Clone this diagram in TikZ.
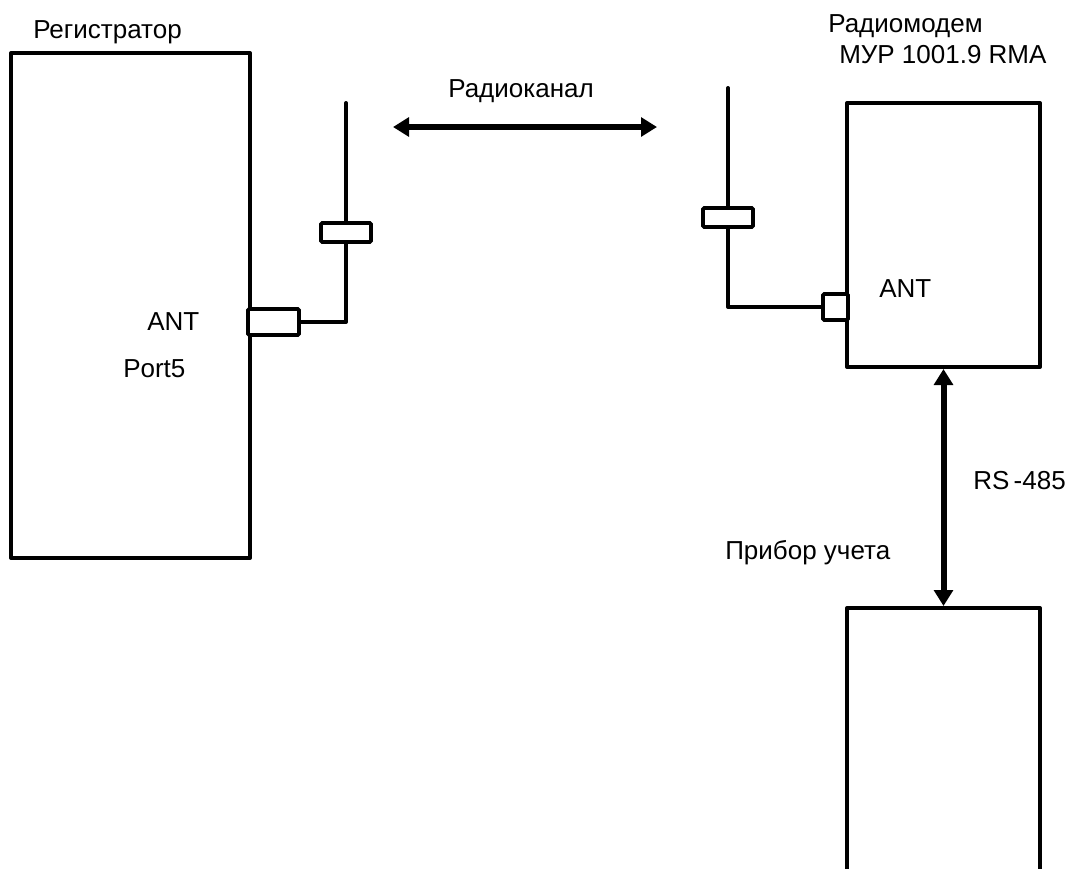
\documentclass[tikz,border=0pt]{standalone}
\usepackage{fontspec}
\setmainfont{Liberation Sans}
\usetikzlibrary{arrows.meta, positioning, fit}
\tikzset{
  devbox/.style={draw, line width=3pt, inner sep=0pt, line join=round},
  plug/.style={draw, fill=white, line width=2.8pt, inner sep=0pt, rounded corners=1pt},
  wire/.style={line width=3pt, line cap=round, line join=round},
  link/.style={{Triangle[length=12pt, width=14pt]}-{Triangle[length=12pt, width=14pt]}, line width=4.5pt},
  lbl/.style={font=\fontsize{19.5}{23}\selectfont, anchor=base west, inner sep=0pt},
}

\begin{document}
\begin{tikzpicture}[x=0.75pt, y=-0.75pt]

  \useasboundingbox (0,0) rectangle (1070,868);
  \clip (0,0) rectangle (1070,868);

  % devices
  \node[devbox, fit={(11,53) (250,558)}] (reg) {};
  \node[devbox, fit={(847,103) (1040,367)}] (modem) {};
  \node[devbox, fit={(847,608) (1040,900)}] (meter) {};

  % antennas
  \coordinate (topL) at (346,103);
  \coordinate (topR) at (728,88);
  \node[plug, fit={(248,309) (299,335)}] (conL) {};
  \node[plug, fit={(321,223) (371,242)}] (antL) {};
  \node[plug, fit={(703,208) (753,227)}] (antR) {};
  \node[plug, fit={(823,294) (848,320)}] (conR) {};

  \draw[wire] (conL.east) -| (antL.south);
  \draw[wire] (antL.north) -- (topL);
  \draw[wire] (conR.west) -| (antR.south);
  \draw[wire] (antR.north) -- (topR);

  % links
  \coordinate (radioL) at (393,127);
  \coordinate (radioR) at (657,127);
  \draw[link] (radioL) -- (radioR);
  \draw[link] (modem.south) -- (meter.north);

  % labels
  \node[lbl] (regname) at (33,38) {Регистратор};
  \node[lbl] (radioname) at (448,97) {Радиоканал};
  \node[lbl] (modemname) at (828,32) {Радиомодем};
  \node[lbl] (modemtype) at (839,63) {МУР 1001.9 RMA};
  \node[lbl] (antLname) at (147,330) {ANT};
  \node[lbl] (portname) at (123,377) {Port5};
  \node[lbl] (antRname) at (879,297) {ANT};
  \node[lbl] (rsname) at (973,489) {RS\,-485};
  \node[lbl] (metername) at (725,559) {Прибор учета};

\end{tikzpicture}
\end{document}
